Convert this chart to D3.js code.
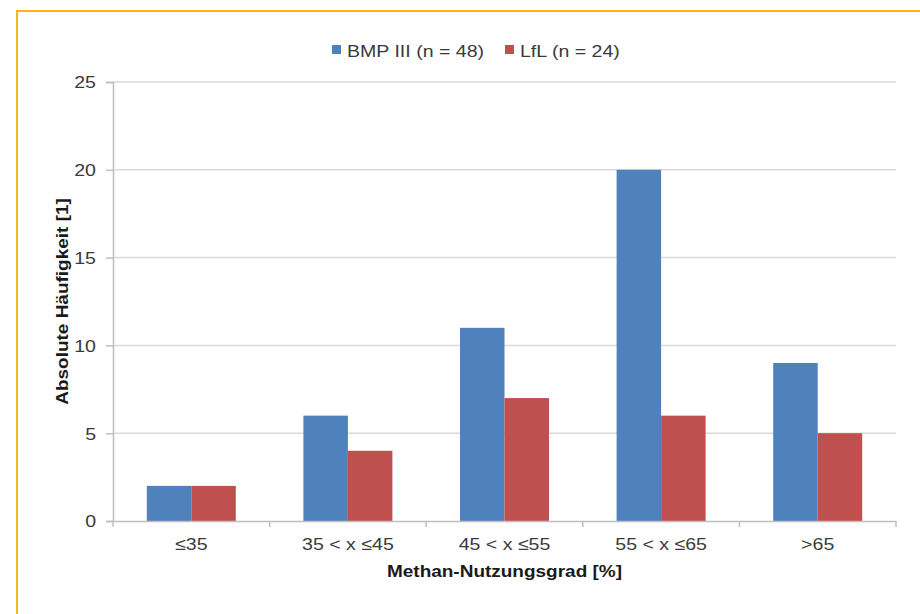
<!DOCTYPE html>
<html><head><meta charset="utf-8">
<script src="https://cdn.jsdelivr.net/npm/d3@7"></script>
<style>html,body{margin:0;padding:0;background:#fff}svg{display:block}</style>
</head><body>
<script>
const categories = ["≤35", "35 < x ≤45", "45 < x ≤55", "55 < x ≤65", ">65"];
const seriesNames = ["BMP III (n = 48)", "LfL (n = 24)"];
const bmpValues = [2, 6, 11, 20, 9];
const lflValues = [2, 4, 7, 6, 5];
const yTicks = [0, 5, 10, 15, 20, 25];
const colors = ["#4f81bd", "#c0504d"];

(function () {
const W = 920, H = 614;
const svg = d3.select("body").append("svg").attr("width", W).attr("height", H);
const font = "'Liberation Sans', Arial, sans-serif";
const textCol = "#3a3a3a";

function stretch(sel, f) {
  sel.each(function () {
    const len = this.getComputedTextLength();
    d3.select(this).attr("textLength", len * f).attr("lengthAdjust", "spacingAndGlyphs");
  });
}

// frame
svg.append("rect").attr("x", 17).attr("y", 11).attr("width", 940).attr("height", 640)
  .attr("fill", "none").attr("stroke", "#f6b817").attr("stroke-width", 2);

const pLeft = 113, pRight = 896, pTop = 82, pBottom = 521;
const x0 = d3.scaleBand().domain(categories).range([pLeft, pRight]).padding(0);
const x1 = d3.scaleBand().domain(seriesNames).range([0, x0.bandwidth()]).paddingInner(0).paddingOuter(0.76);
const y = d3.scaleLinear().domain([0, 25]).range([pBottom, pTop]);

// gridlines
svg.append("g").selectAll("line").data(yTicks.filter(d => d > 0)).join("line")
  .attr("x1", pLeft).attr("x2", pRight).attr("y1", d => y(d)).attr("y2", d => y(d))
  .attr("stroke", "#d9d9d9").attr("stroke-width", 1.5);

// y axis
const yAxis = svg.append("g").attr("transform", `translate(${pLeft},0)`)
  .call(d3.axisLeft(y).tickValues(yTicks).tickSize(7).tickPadding(10));
yAxis.select(".domain").attr("stroke", "#bfbfbf").attr("stroke-width", 1.5);
yAxis.selectAll(".tick line").attr("stroke", "#bfbfbf").attr("stroke-width", 1.5);
yAxis.selectAll("text").attr("font-family", font).attr("font-size", 17).attr("fill", textCol)
  .attr("dy", "0.35em").call(stretch, 1.15);

// bars
const data = categories.map((c, i) => ({cat: c, vals: [bmpValues[i], lflValues[i]]}));
const groups = svg.append("g").selectAll("g").data(data).join("g")
  .attr("transform", d => `translate(${x0(d.cat)},0)`);
groups.selectAll("rect").data(d => d.vals.map((v, j) => ({name: seriesNames[j], v, j}))).join("rect")
  .attr("x", d => x1(d.name)).attr("width", x1.bandwidth())
  .attr("y", d => y(d.v)).attr("height", d => y(0) - y(d.v))
  .attr("fill", d => colors[d.j]);

// x axis
const xAxis = svg.append("g").attr("transform", `translate(0,${pBottom})`)
  .call(d3.axisBottom(x0).tickSize(0).tickPadding(0));
xAxis.select(".domain").attr("stroke", "#bfbfbf").attr("stroke-width", 1.5);
xAxis.selectAll("text").attr("font-family", font).attr("font-size", 17).attr("fill", textCol)
  .attr("y", 29).attr("dy", 0).call(stretch, 1.15);
// category boundary ticks
const bounds = categories.map(c => x0(c)).concat([pRight]);
svg.append("g").selectAll("line").data(bounds).join("line")
  .attr("x1", d => d).attr("x2", d => d).attr("y1", pBottom).attr("y2", pBottom + 6)
  .attr("stroke", "#bfbfbf").attr("stroke-width", 1.5);

// axis titles
svg.append("text").attr("x", (pLeft + pRight) / 2).attr("y", 577).attr("text-anchor", "middle")
  .attr("font-family", font).attr("font-size", 16.5).attr("font-weight", "bold").attr("fill", "#1a1a1a")
  .text("Methan-Nutzungsgrad [%]").call(stretch, 1.15);
svg.append("text").attr("transform", `translate(68,${(pTop + pBottom) / 2}) rotate(-90)`)
  .attr("text-anchor", "middle")
  .attr("font-family", font).attr("font-size", 16.5).attr("font-weight", "bold").attr("fill", "#1a1a1a")
  .text("Absolute Häufigkeit [1]").call(stretch, 1.15);

// legend
const legendX = [332, 505];
const leg = svg.append("g").selectAll("g").data(seriesNames).join("g")
  .attr("transform", (d, i) => `translate(${legendX[i]},45)`);
leg.append("rect").attr("width", 9).attr("height", 9).attr("y", 0).attr("fill", (d, i) => colors[i]);
leg.append("text").attr("x", 15).attr("y", 12).attr("font-family", font).attr("font-size", 17)
  .attr("fill", textCol).text(d => d).call(stretch, 1.15);
})();
</script>
</body></html>
